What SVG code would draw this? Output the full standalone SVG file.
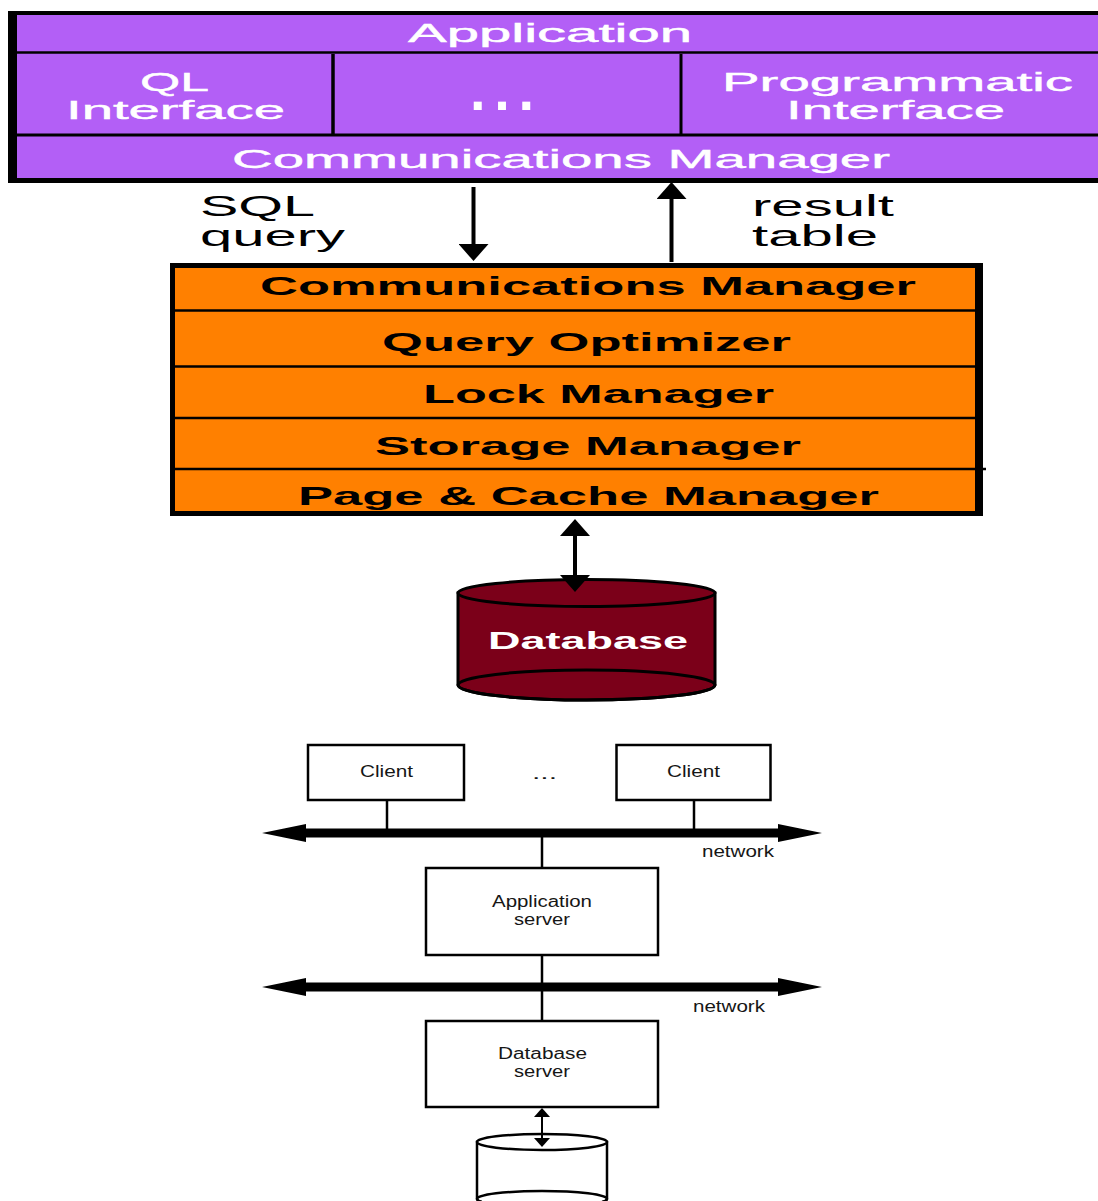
<svg xmlns="http://www.w3.org/2000/svg" width="1098" height="1201" viewBox="0 0 1098 1201">
  <style>
    .wide { font-family: "Liberation Sans", Arial, sans-serif; }
    .app { fill: #ffffff; font-size: 25px; stroke: #ffffff; stroke-width: 0.4px; }
    .eng { fill: #000000; font-size: 25px; font-weight: bold; }
    .lbl { fill: #000000; font-size: 30px; }
    .small { font-family: "Liberation Sans", Arial, sans-serif; font-size: 16px; fill: #161616; }
    .box { fill: #ffffff; stroke: #000000; stroke-width: 2.5; }
    .rule { stroke: #000000; fill: none; }
  </style>
  <defs>
    <marker id="bigHead" markerUnits="userSpaceOnUse" markerWidth="17" markerHeight="30" refX="14" refY="15" orient="auto-start-reverse">
      <path d="M0,0 L17,15 L0,30 Z" fill="#000000"/>
    </marker>
    <marker id="smallHead" markerUnits="userSpaceOnUse" markerWidth="9" markerHeight="16" refX="8" refY="8" orient="auto-start-reverse">
      <path d="M0,0 L9,8 L0,16 Z" fill="#000000"/>
    </marker>
  </defs>

  <!-- application tier: client-side stack -->
  <g id="application-stack">
    <rect x="12.5" y="13" width="1100" height="167.5" fill="#b35ff6" stroke="#000000" stroke-width="4"/>
    <rect x="8" y="11" width="9" height="172" fill="#000000"/>
    <line class="rule" x1="8" y1="180.5" x2="1098" y2="180.5" stroke-width="5"/>
    <line class="rule" x1="12" y1="52.5" x2="1098" y2="52.5" stroke-width="2.5"/>
    <line class="rule" x1="12" y1="135" x2="1098" y2="135" stroke-width="3"/>
    <line class="rule" x1="333" y1="54" x2="333" y2="135" stroke-width="3.5"/>
    <line class="rule" x1="681" y1="54" x2="681" y2="135" stroke-width="3"/>
    <text class="wide app" x="408" y="42" font-size="27" textLength="284" lengthAdjust="spacingAndGlyphs">Application</text>
    <text class="wide app" x="140" y="91" textLength="69" lengthAdjust="spacingAndGlyphs">QL</text>
    <text class="wide app" x="66" y="119" textLength="219" lengthAdjust="spacingAndGlyphs">Interface</text>
    <text class="wide" x="470" y="110" font-size="56" font-weight="bold" fill="#ffffff" textLength="64" lengthAdjust="spacing">...</text>
    <text class="wide app" x="722" y="91" textLength="351" lengthAdjust="spacingAndGlyphs">Programmatic</text>
    <text class="wide app" x="786" y="119" textLength="219" lengthAdjust="spacingAndGlyphs">Interface</text>
    <text class="wide app" x="232" y="168" textLength="658" lengthAdjust="spacingAndGlyphs">Communications Manager</text>
  </g>

  <!-- database engine stack -->
  <g id="engine-stack">
    <rect x="172.5" y="265.5" width="806" height="248" fill="#ff8000" stroke="#000000" stroke-width="5"/>
    <rect x="975" y="263" width="8" height="253" fill="#000000"/>
    <line class="rule" x1="172" y1="310.5" x2="978" y2="310.5" stroke-width="2.5"/>
    <line class="rule" x1="172" y1="366.5" x2="978" y2="366.5" stroke-width="2.5"/>
    <line class="rule" x1="172" y1="418" x2="978" y2="418" stroke-width="2.5"/>
    <line class="rule" x1="172" y1="469" x2="986" y2="469" stroke-width="2.5"/>
    <text class="wide eng" x="260" y="295" textLength="656" lengthAdjust="spacingAndGlyphs">Communications Manager</text>
    <text class="wide eng" x="382" y="351" textLength="409" lengthAdjust="spacingAndGlyphs">Query Optimizer</text>
    <text class="wide eng" x="423" y="403" textLength="351" lengthAdjust="spacingAndGlyphs">Lock Manager</text>
    <text class="wide eng" x="375" y="455" textLength="426" lengthAdjust="spacingAndGlyphs">Storage Manager</text>
    <text class="wide eng" x="298" y="505" textLength="581" lengthAdjust="spacingAndGlyphs">Page &amp; Cache Manager</text>
  </g>

  <!-- stored data -->
  <g id="database">
    <path d="M458,593 L458,685 A128.5,15 0 0 0 715,685 L715,593 Z" fill="#7b0019" stroke="#000000" stroke-width="3"/>
    <ellipse cx="586.5" cy="685" rx="128.5" ry="15" fill="none" stroke="#000000" stroke-width="3"/>
    <ellipse cx="586.5" cy="593" rx="128.5" ry="13.5" fill="#7b0019" stroke="#000000" stroke-width="3"/>
    <text class="wide" x="488" y="649" font-size="24" font-weight="bold" fill="#ffffff" textLength="200" lengthAdjust="spacingAndGlyphs">Database</text>
  </g>

  <!-- three-tier deployment -->
  <g id="client-1">
    <rect class="box" x="308" y="745" width="156" height="55"/>
    <text class="small" x="360" y="777" textLength="53" lengthAdjust="spacingAndGlyphs">Client</text>
  </g>
  <g id="client-ellipsis">
    <text class="small" x="532" y="779" font-size="18" textLength="25" lengthAdjust="spacingAndGlyphs">...</text>
  </g>
  <g id="client-2">
    <rect class="box" x="616.5" y="745" width="154" height="55"/>
    <text class="small" x="667" y="777" textLength="53" lengthAdjust="spacingAndGlyphs">Client</text>
  </g>
  <g id="network-1">
    <polygon points="262,833 306,824 306,828.5 778,828.5 778,824 822,833 778,842 778,837.5 306,837.5 306,842" fill="#000000"/>
    <text class="small" x="702" y="857" textLength="72" lengthAdjust="spacingAndGlyphs">network</text>
  </g>
  <g id="application-server">
    <rect class="box" x="426" y="868" width="232" height="87"/>
    <text class="small" x="492" y="907" textLength="100" lengthAdjust="spacingAndGlyphs">Application</text>
    <text class="small" x="514" y="925" textLength="56" lengthAdjust="spacingAndGlyphs">server</text>
  </g>
  <g id="network-2">
    <polygon points="262,987 306,978 306,982.5 778,982.5 778,978 822,987 778,996 778,991.5 306,991.5 306,996" fill="#000000"/>
    <text class="small" x="693" y="1012" textLength="72" lengthAdjust="spacingAndGlyphs">network</text>
  </g>
  <g id="database-server">
    <rect class="box" x="426" y="1021" width="232" height="86"/>
    <text class="small" x="498" y="1059" textLength="89" lengthAdjust="spacingAndGlyphs">Database</text>
    <text class="small" x="514" y="1077" textLength="56" lengthAdjust="spacingAndGlyphs">server</text>
  </g>
  <g id="disk">
    <path d="M477,1142 L477,1199 A65,8 0 0 0 607,1199 L607,1142 Z" fill="#ffffff" stroke="#000000" stroke-width="2.5"/>
    <ellipse cx="542" cy="1199" rx="65" ry="8" fill="none" stroke="#000000" stroke-width="2.5"/>
    <ellipse cx="542" cy="1142" rx="65" ry="8" fill="#ffffff" stroke="#000000" stroke-width="2.5"/>
  </g>

  <!-- connectors -->
  <g id="connectors">
    <line x1="473.5" y1="187" x2="473.5" y2="258" stroke="#000000" stroke-width="4" marker-end="url(#bigHead)"/>
    <line x1="671.5" y1="262" x2="671.5" y2="185" stroke="#000000" stroke-width="4" marker-end="url(#bigHead)"/>
    <line x1="575" y1="522" x2="575" y2="589" stroke="#000000" stroke-width="4" marker-start="url(#bigHead)" marker-end="url(#bigHead)"/>
    <line x1="387" y1="800" x2="387" y2="830" stroke="#000000" stroke-width="2.5"/>
    <line x1="694" y1="800" x2="694" y2="830" stroke="#000000" stroke-width="2.5"/>
    <line x1="542" y1="836" x2="542" y2="868" stroke="#000000" stroke-width="2.5"/>
    <line x1="542" y1="955" x2="542" y2="1021" stroke="#000000" stroke-width="2.5"/>
    <line x1="542" y1="1109" x2="542" y2="1146" stroke="#000000" stroke-width="2" marker-start="url(#smallHead)" marker-end="url(#smallHead)"/>
    <text class="wide lbl" x="200" y="216" textLength="115" lengthAdjust="spacingAndGlyphs">SQL</text>
    <text class="wide lbl" x="200" y="246" textLength="145" lengthAdjust="spacingAndGlyphs">query</text>
    <text class="wide lbl" x="752" y="216" textLength="142" lengthAdjust="spacingAndGlyphs">result</text>
    <text class="wide lbl" x="752" y="246" textLength="126" lengthAdjust="spacingAndGlyphs">table</text>
  </g>
</svg>
